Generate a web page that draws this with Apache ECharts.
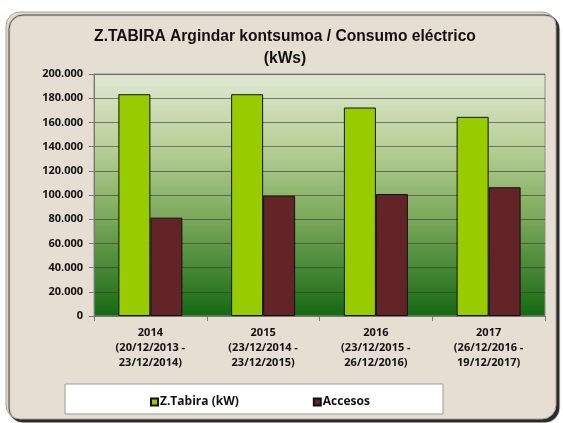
<!DOCTYPE html>
<html>
<head>
<meta charset="UTF-8">
<title>Z.TABIRA Argindar kontsumoa</title>
<script src="https://cdn.jsdelivr.net/npm/echarts@6/dist/echarts.min.js"></script>
<style>
  html, body { margin: 0; padding: 0; background: #fff; }
  #chartmain { width: 563px; height: 423px; }
</style>
</head>
<body>
<div id="chartmain"></div>
<script>
// datos
var categories = [
  "2014\n(20/12/2013 -\n23/12/2014)",
  "2015\n(23/12/2014 -\n23/12/2015)",
  "2016\n(23/12/2015 -\n26/12/2016)",
  "2017\n(26/12/2016 -\n19/12/2017)"
];
var tabiraKw = [183300, 183300, 172300, 164600];
var accesos = [81300, 99400, 100800, 106400];
var seriesNames = ["Z.Tabira (kW)", "Accesos"];

var mychart = echarts.init(document.getElementById("chartmain"));

// formato con punto de miles: 200.000
function fmtMiles(v) {
  return String(v).replace(/\B(?=(\d{3})+(?!\d))/g, ".");
}

var labelFont = "Open Sans";

var myoption = {
  backgroundColor: "#ffffff",
  animation: false,
  graphic: [
    {
      // marco exterior
      type: "rect",
      z: -10,
      shape: { x: 6, y: 12, width: 550, height: 407, r: 14 },
      style: {
        fill: "#e6ded2",
        stroke: "#a8a198",
        lineWidth: 1,
        shadowColor: "rgba(20,20,20,0.9)",
        shadowOffsetX: 3,
        shadowOffsetY: 3,
        shadowBlur: 1
      }
    },
    {
      // caja de la leyenda
      type: "rect",
      z: -5,
      shape: { x: 65, y: 384, width: 378, height: 30 },
      style: { fill: "#ffffff", stroke: "#9a9a9a", lineWidth: 1 }
    }
  ],
  title: {
    text: "Z.TABIRA Argindar kontsumoa / Consumo eléctrico\n(kWs)",
    left: 280,
    textAlign: "center",
    top: 21,
    textStyle: {
      fontFamily: "Arial",
      fontSize: 15.6,
      fontWeight: "bold",
      color: "#111",
      lineHeight: 22
    }
  },
  legend: {
    data: seriesNames,
    left: 145,
    top: 391,
    itemGap: 74,
    itemWidth: 7,
    itemHeight: 7,
    icon: "rect",
    textStyle: {
      fontFamily: labelFont,
      fontSize: 12,
      fontWeight: "bold",
      color: "#111",
      padding: [0, 0, 0, -3]
    }
  },
  grid: {
    left: 94,
    right: 18,
    top: 74,
    bottom: 107,
    show: true,
    borderColor: "#8a8a8a",
    borderWidth: 1,
    backgroundColor: {
      type: "linear",
      x: 0, y: 0, x2: 0, y2: 1,
      colorStops: [
        { offset: 0, color: "#dfe8d3" },
        { offset: 0.3, color: "#b8cf98" },
        { offset: 0.6, color: "#7aa85a" },
        { offset: 1, color: "#156812" }
      ]
    }
  },
  xAxis: [
    {
      type: "category",
      data: categories,
      axisLine: { show: true, lineStyle: { color: "#777", width: 1 } },
      axisTick: { show: true, length: 5, lineStyle: { color: "#777" } },
      axisLabel: {
        interval: 0,
        margin: 9,
        fontFamily: labelFont,
        fontSize: 11,
        fontWeight: "bold",
        color: "#111",
        lineHeight: 15
      }
    }
  ],
  yAxis: [
    {
      type: "value",
      min: 0,
      max: 200000,
      interval: 20000,
      axisLine: { show: true, lineStyle: { color: "#777", width: 1 } },
      axisTick: { show: true, length: 5, lineStyle: { color: "#777" } },
      axisLabel: {
        margin: 11,
        fontFamily: labelFont,
        fontSize: 11,
        fontWeight: "bold",
        color: "#111",
        formatter: fmtMiles
      },
      splitLine: { show: true, lineStyle: { color: "rgba(50,60,40,0.6)", width: 1 } }
    }
  ],
  series: [
    {
      name: seriesNames[0],
      type: "bar",
      data: tabiraKw,
      barWidth: 32,
      barGap: "0%",
      itemStyle: { color: "#99cc00", borderColor: "#111", borderWidth: 1 }
    },
    {
      name: seriesNames[1],
      type: "bar",
      data: accesos,
      barWidth: 32,
      itemStyle: { color: "#632428", borderColor: "#111", borderWidth: 1 }
    }
  ]
};

mychart.setOption(myoption);
</script>
</body>
</html>
